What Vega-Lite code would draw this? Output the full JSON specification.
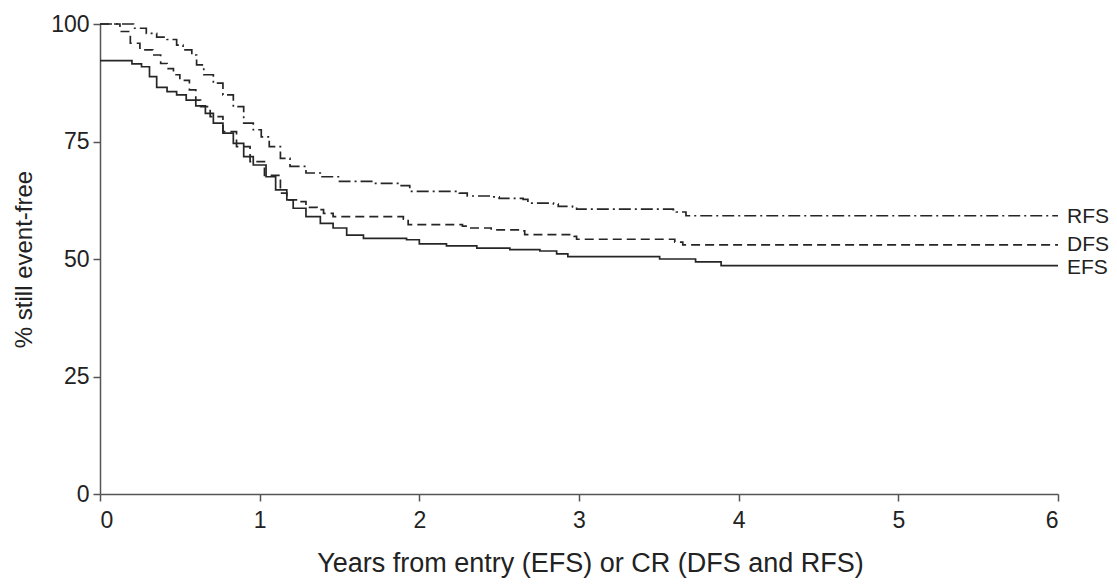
{
  "$schema": "https://vega.github.io/schema/vega-lite/v6.json",
  "width": 958,
  "height": 470,
  "autosize": {"type": "none"},
  "padding": {"left": 100, "top": 24, "right": 59, "bottom": 91},
  "background": "white",
  "config": {
    "view": {"stroke": null},
    "font": "Liberation Sans",
    "axis": {
      "grid": false,
      "domainColor": "#555555",
      "domainWidth": 1.5,
      "tickColor": "#555555",
      "tickWidth": 1.5,
      "tickSize": 7,
      "labelFont": "Liberation Sans",
      "labelFontSize": 23,
      "labelColor": "#222222",
      "titleFont": "Liberation Sans",
      "titleFontSize": 24,
      "titleFontWeight": "normal",
      "titleColor": "#222222"
    }
  },
  "datasets": {
    "curves": [
      {"series": "EFS", "t": 0, "s": 92.2},
      {"series": "EFS", "t": 0.2, "s": 91.5},
      {"series": "EFS", "t": 0.26, "s": 90.9},
      {"series": "EFS", "t": 0.31, "s": 88.8},
      {"series": "EFS", "t": 0.355, "s": 86.5},
      {"series": "EFS", "t": 0.42, "s": 85.6},
      {"series": "EFS", "t": 0.48, "s": 84.9},
      {"series": "EFS", "t": 0.54, "s": 83.8},
      {"series": "EFS", "t": 0.6, "s": 82.6},
      {"series": "EFS", "t": 0.66, "s": 81.0},
      {"series": "EFS", "t": 0.71, "s": 78.9},
      {"series": "EFS", "t": 0.77, "s": 76.8},
      {"series": "EFS", "t": 0.835, "s": 74.6},
      {"series": "EFS", "t": 0.9, "s": 71.8},
      {"series": "EFS", "t": 0.96, "s": 70.0},
      {"series": "EFS", "t": 1.04, "s": 67.5},
      {"series": "EFS", "t": 1.1, "s": 64.7},
      {"series": "EFS", "t": 1.17, "s": 62.6},
      {"series": "EFS", "t": 1.21, "s": 60.8},
      {"series": "EFS", "t": 1.29, "s": 59.0},
      {"series": "EFS", "t": 1.38, "s": 57.6},
      {"series": "EFS", "t": 1.46, "s": 56.6},
      {"series": "EFS", "t": 1.545, "s": 55.1},
      {"series": "EFS", "t": 1.65, "s": 54.4},
      {"series": "EFS", "t": 1.92, "s": 54.1},
      {"series": "EFS", "t": 2.0, "s": 53.2},
      {"series": "EFS", "t": 2.17, "s": 52.8},
      {"series": "EFS", "t": 2.36, "s": 52.3},
      {"series": "EFS", "t": 2.567, "s": 52.0},
      {"series": "EFS", "t": 2.755, "s": 51.7},
      {"series": "EFS", "t": 2.86, "s": 51.1},
      {"series": "EFS", "t": 2.93, "s": 50.5},
      {"series": "EFS", "t": 3.505, "s": 50.0},
      {"series": "EFS", "t": 3.73, "s": 49.4},
      {"series": "EFS", "t": 3.89, "s": 48.6},
      {"series": "EFS", "t": 6.0, "s": 48.6},
      {"series": "DFS", "t": 0, "s": 100},
      {"series": "DFS", "t": 0.1, "s": 100},
      {"series": "DFS", "t": 0.125, "s": 98.4},
      {"series": "DFS", "t": 0.19, "s": 95.9},
      {"series": "DFS", "t": 0.25, "s": 94.5},
      {"series": "DFS", "t": 0.33, "s": 93.4},
      {"series": "DFS", "t": 0.38, "s": 91.6},
      {"series": "DFS", "t": 0.42, "s": 90.5},
      {"series": "DFS", "t": 0.46, "s": 89.2},
      {"series": "DFS", "t": 0.5, "s": 88.0},
      {"series": "DFS", "t": 0.56, "s": 86.0},
      {"series": "DFS", "t": 0.6, "s": 83.8},
      {"series": "DFS", "t": 0.63, "s": 82.4},
      {"series": "DFS", "t": 0.69, "s": 80.3},
      {"series": "DFS", "t": 0.77, "s": 77.1},
      {"series": "DFS", "t": 0.855, "s": 73.9},
      {"series": "DFS", "t": 0.94, "s": 70.7},
      {"series": "DFS", "t": 1.03, "s": 67.8},
      {"series": "DFS", "t": 1.13, "s": 64.0},
      {"series": "DFS", "t": 1.17, "s": 62.6},
      {"series": "DFS", "t": 1.25, "s": 62.2},
      {"series": "DFS", "t": 1.29, "s": 61.0},
      {"series": "DFS", "t": 1.36, "s": 60.5},
      {"series": "DFS", "t": 1.4, "s": 59.7},
      {"series": "DFS", "t": 1.46, "s": 59.0},
      {"series": "DFS", "t": 1.9, "s": 58.5},
      {"series": "DFS", "t": 1.93, "s": 57.3},
      {"series": "DFS", "t": 2.27, "s": 57.0},
      {"series": "DFS", "t": 2.3, "s": 56.6},
      {"series": "DFS", "t": 2.45, "s": 56.2},
      {"series": "DFS", "t": 2.64, "s": 56.0},
      {"series": "DFS", "t": 2.66, "s": 55.2},
      {"series": "DFS", "t": 2.97, "s": 54.8},
      {"series": "DFS", "t": 2.985, "s": 54.2},
      {"series": "DFS", "t": 3.6, "s": 53.6},
      {"series": "DFS", "t": 3.65, "s": 53.0},
      {"series": "DFS", "t": 6.0, "s": 53.0},
      {"series": "RFS", "t": 0, "s": 100},
      {"series": "RFS", "t": 0.15, "s": 100},
      {"series": "RFS", "t": 0.21, "s": 99.1},
      {"series": "RFS", "t": 0.29, "s": 98.0},
      {"series": "RFS", "t": 0.355, "s": 97.2},
      {"series": "RFS", "t": 0.42, "s": 96.7},
      {"series": "RFS", "t": 0.48, "s": 95.5},
      {"series": "RFS", "t": 0.52, "s": 94.5},
      {"series": "RFS", "t": 0.575, "s": 93.4},
      {"series": "RFS", "t": 0.605, "s": 91.3},
      {"series": "RFS", "t": 0.65, "s": 89.2},
      {"series": "RFS", "t": 0.71, "s": 87.4},
      {"series": "RFS", "t": 0.77, "s": 84.9},
      {"series": "RFS", "t": 0.835, "s": 82.4},
      {"series": "RFS", "t": 0.9, "s": 78.9},
      {"series": "RFS", "t": 0.96, "s": 77.5},
      {"series": "RFS", "t": 1.01, "s": 76.0},
      {"series": "RFS", "t": 1.06, "s": 73.9},
      {"series": "RFS", "t": 1.13, "s": 71.4},
      {"series": "RFS", "t": 1.19, "s": 69.7},
      {"series": "RFS", "t": 1.29, "s": 68.3},
      {"series": "RFS", "t": 1.38, "s": 67.5},
      {"series": "RFS", "t": 1.5, "s": 66.5},
      {"series": "RFS", "t": 1.71, "s": 66.1},
      {"series": "RFS", "t": 1.88, "s": 65.6},
      {"series": "RFS", "t": 1.94, "s": 64.4},
      {"series": "RFS", "t": 2.25, "s": 64.0},
      {"series": "RFS", "t": 2.3, "s": 63.4},
      {"series": "RFS", "t": 2.46, "s": 63.2},
      {"series": "RFS", "t": 2.5, "s": 62.9},
      {"series": "RFS", "t": 2.65, "s": 62.7},
      {"series": "RFS", "t": 2.68, "s": 61.9},
      {"series": "RFS", "t": 2.84, "s": 61.7},
      {"series": "RFS", "t": 2.87, "s": 61.2},
      {"series": "RFS", "t": 2.96, "s": 61.1},
      {"series": "RFS", "t": 2.985, "s": 60.6},
      {"series": "RFS", "t": 3.59, "s": 60.5},
      {"series": "RFS", "t": 3.61, "s": 60.0},
      {"series": "RFS", "t": 3.67, "s": 59.2},
      {"series": "RFS", "t": 6.0, "s": 59.2}
    ],
    "labels": [
      {"series": "RFS", "t": 6, "s": 59.0},
      {"series": "DFS", "t": 6, "s": 53.0},
      {"series": "EFS", "t": 6, "s": 48.0}
    ]
  },
  "layer": [
    {
      "data": {"name": "curves"},
      "mark": {"type": "line", "interpolate": "step-after", "color": "#262626", "strokeWidth": 1.7, "clip": false},
      "encoding": {
        "x": {
          "field": "t", "type": "quantitative",
          "scale": {"domain": [0, 6], "nice": false},
          "axis": {"values": [0, 1, 2, 3, 4, 5, 6], "format": "d", "labelPadding": 8, "title": "Years from entry (EFS) or CR (DFS and RFS)", "titleFontSize": 27, "titlePadding": 18, "titleX": 490}
        },
        "y": {
          "field": "s", "type": "quantitative",
          "scale": {"domain": [0, 100], "nice": false},
          "axis": {"values": [0, 25, 50, 75, 100], "labelPadding": 4, "title": "% still event-free", "titlePadding": 14}
        },
        "detail": {"field": "series"},
        "strokeDash": {
          "field": "series", "type": "nominal",
          "scale": {"domain": ["EFS", "DFS", "RFS"], "range": [[1, 0], [9, 5], [12, 4, 2, 4]]},
          "legend": null
        }
      }
    },
    {
      "data": {"name": "labels"},
      "mark": {"type": "text", "align": "left", "baseline": "middle", "dx": 9, "fontSize": 21, "font": "Liberation Sans", "color": "#222222", "clip": false},
      "encoding": {
        "x": {"field": "t", "type": "quantitative"},
        "y": {"field": "s", "type": "quantitative"},
        "text": {"field": "series"}
      }
    }
  ]
}
